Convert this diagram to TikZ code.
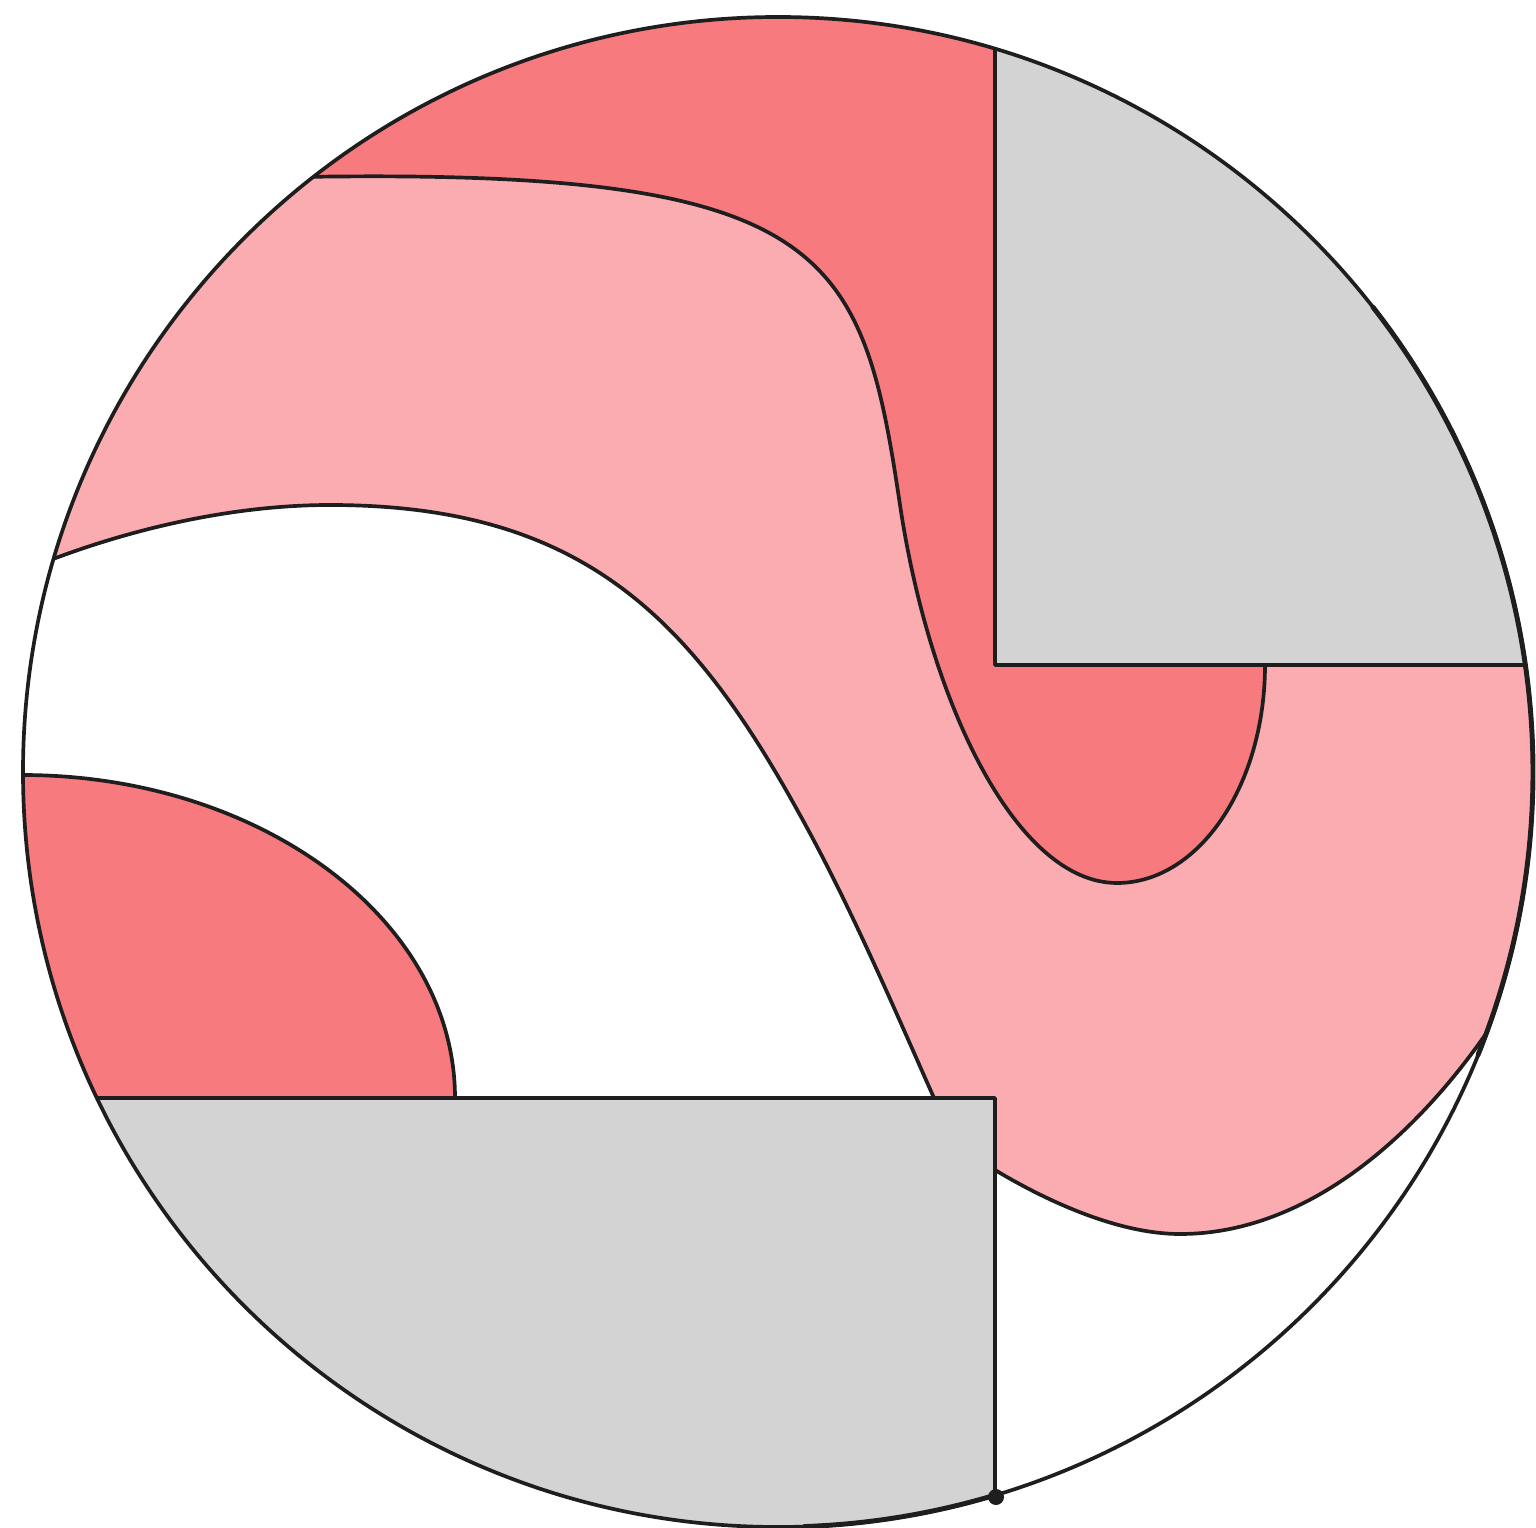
\documentclass[tikz,border=0pt]{standalone}
\definecolor{dpink}{RGB}{247,122,127}
\definecolor{lpink}{RGB}{251,172,176}
\definecolor{gry}{RGB}{211,211,211}
\definecolor{ink}{RGB}{30,30,30}
\begin{document}
\begin{tikzpicture}[x=0.01cm,y=-0.01cm,line join=round,
  edge/.style={draw=ink,line width=1.05pt}]
\useasboundingbox (0,0) rectangle (1536,1528);
\begin{scope}
\clip (778,772) circle[radius=755];
% base
\fill[lpink] (0,0) rectangle (1536,1528);
% dark pink top region (above the upper S curve)
\fill[dpink] (-100,177) -- (300,177) .. controls (830,168) and (862,250) .. (900,505)
   .. controls (930,705) and (1017,883) .. (1117,883)
   .. controls (1199,883) and (1265,785) .. (1265,665)
   -- (1265,-100) -- (-100,-100) -- cycle;
% white middle-left region
\fill[white] (-100,566) -- (35,566) .. controls (125,530) and (230,505) .. (330,505)
   .. controls (580,505) and (690,615) .. (800,815)
   .. controls (850,905) and (894,1008) .. (934,1098)
   -- (-100,1098) -- cycle;
% dark pink bottom-left quarter ellipse
\fill[dpink] (-100,775) -- (22,775) .. controls (261,775) and (455,920) .. (455,1098) -- (-100,1098) -- cycle;
% white bottom-right region
\fill[white] (995,1170) .. controls (1050,1203) and (1120,1234) .. (1180,1234)
   .. controls (1320,1234) and (1436,1115) .. (1505,1005)
   -- (1700,1005) -- (1700,1700) -- (995,1700) -- cycle;
% grey regions
\fill[gry] (-100,1098) rectangle (995,1700);
\fill[gry] (995,-100) rectangle (1700,665);
% outlines
\draw[edge] (300,177) .. controls (830,168) and (862,250) .. (900,505)
   .. controls (930,705) and (1017,883) .. (1117,883)
   .. controls (1199,883) and (1265,785) .. (1265,665);
\draw[edge] (35,566) .. controls (125,530) and (230,505) .. (330,505)
   .. controls (580,505) and (690,615) .. (800,815)
   .. controls (850,905) and (894,1008) .. (934,1098);
\draw[edge] (22,775) .. controls (261,775) and (455,920) .. (455,1098);
\draw[edge] (995,1170) .. controls (1050,1203) and (1120,1234) .. (1180,1234)
   .. controls (1320,1234) and (1436,1115) .. (1505,1005);
\draw[edge] (995,-100) -- (995,665) -- (1700,665);
\draw[edge] (-100,1098) -- (995,1098) -- (995,1700);
\end{scope}
\draw[edge] (778,772) circle[radius=755];
\draw[edge,line width=1.4pt,line cap=round] (778,772) ++(-38:755) arc[start angle=-38,end angle=22,radius=755];
\draw[edge,line width=1.4pt,line cap=round] (778,772) ++(73:755) arc[start angle=73,end angle=88,radius=755];
\fill[ink] (996,1497) circle[radius=8];
\end{tikzpicture}
\end{document}
